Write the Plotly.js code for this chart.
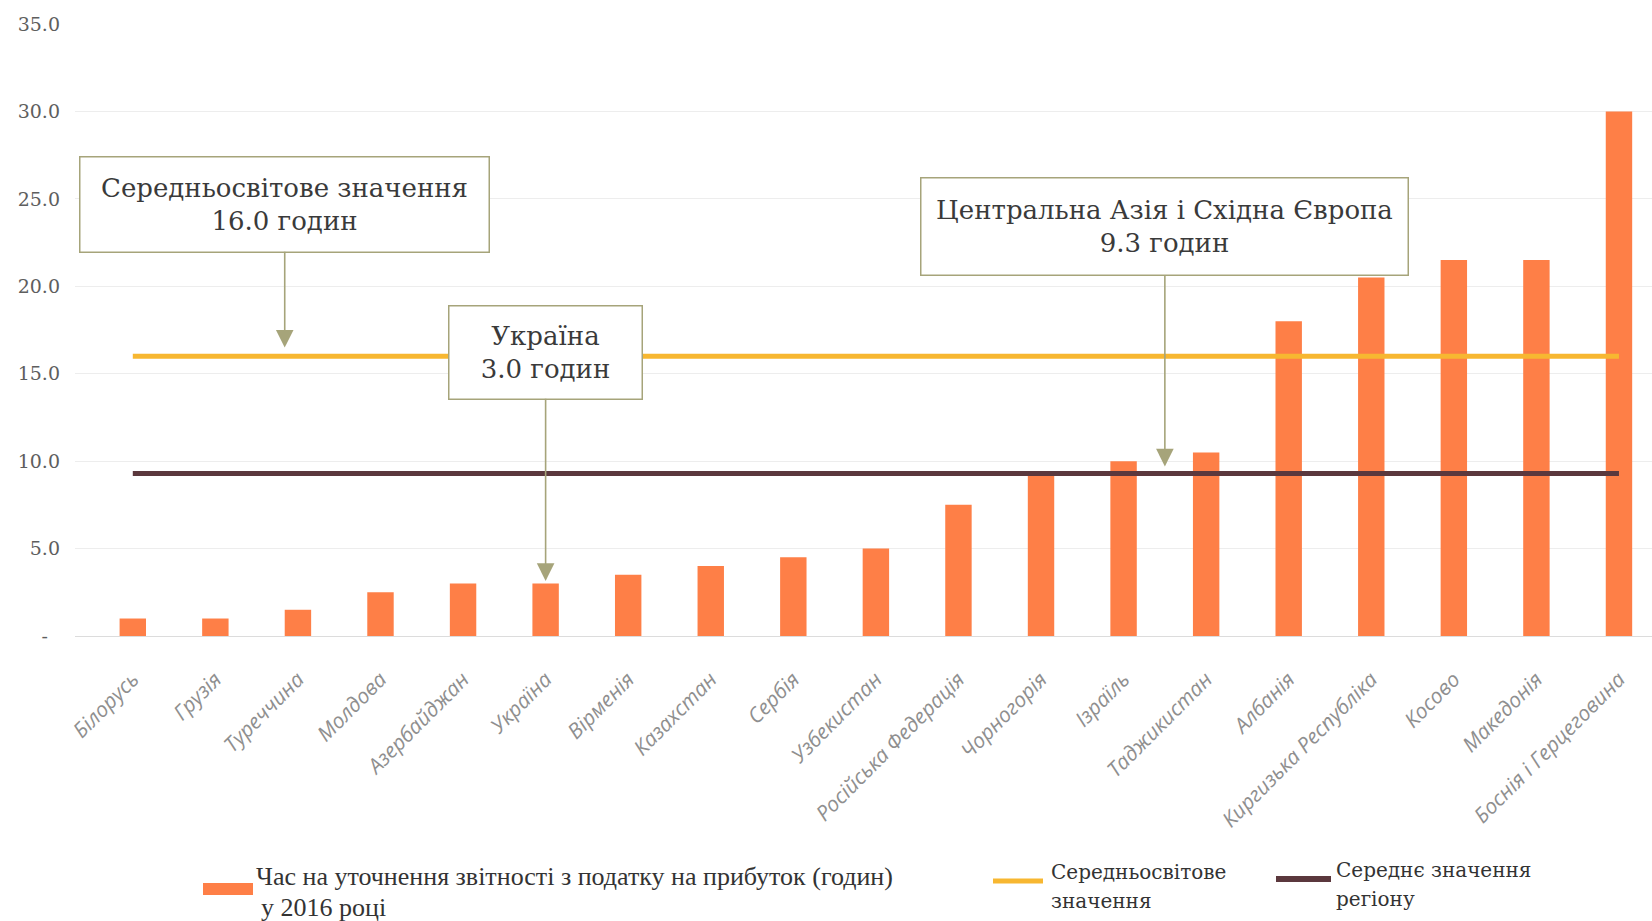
<!DOCTYPE html>
<html>
<head>
<meta charset="utf-8">
<script src="https://cdn.plot.ly/plotly-3.0.1.min.js"></script>
<style>
  html, body { margin: 0; padding: 0; background: #ffffff; }
  #chart { width: 1652px; height: 921px; }
</style>
</head>
<body>
<div id="chart"></div>
<script>
// ---- data ----
const countries = ["Білорусь", "Грузія", "Туреччина", "Молдова", "Азербайджан", "Україна", "Вірменія",
  "Казахстан", "Сербія", "Узбекистан", "Російська Федерація", "Чорногорія", "Ізраїль", "Таджикистан",
  "Албанія", "Киргизька Республіка", "Косово", "Македонія", "Боснія і Герцеговина"];
const hours = [1.0, 1.0, 1.5, 2.5, 3.0, 3.0, 3.5, 4.0, 4.5, 5.0, 7.5, 9.3, 10.0, 10.5, 18.0, 20.5, 21.5, 21.5, 30.0];
const worldAvg = 16.0;
const regionAvg = 9.3;
const yTickVals = [0, 5, 10, 15, 20, 25, 30, 35];
const yTickText = ["-\u00a0\u00a0", "5.0", "10.0", "15.0", "20.0", "25.0", "30.0", "35.0"];
const legendLabels = ["Час на уточнення звітності з податку на прибуток (годин)", "у 2016 році",
  "Середньосвітове", "значення", "Середнє значення", "регіону"];
const noteWorld = "Середньосвітове значення<br>16.0 годин";
const noteUkraine = "Україна<br>3.0 годин";
const noteRegion = "Центральна Азія і Східна Європа<br>9.3 годин";

// ---- colours ----
const barColor = "#fe7f47";
const worldColor = "#f7b731";
const regionColor = "#5b383d";
const boxColor = "#a6a47a";

// ---- layout geometry helpers (pixel -> paper) ----
const W = 1652, H = 921;
const mL = 75, mR = 0, mT = 24, mB = 285;
const plotW = W - mL - mR, plotH = H - mT - mB;
const px = x => (x - mL) / plotW;
const py = y => (H - mB - y) / plotH;

const first = countries[0], last = countries[countries.length - 1];

const traces = [
  {
    type: "bar", x: countries, y: hours, marker: { color: barColor },
    width: 0.32, showlegend: false, hoverinfo: "x+y"
  },
  {
    type: "scatter", mode: "lines", x: [first, last], y: [worldAvg, worldAvg],
    line: { color: worldColor, width: 5 }, showlegend: false, hoverinfo: "y"
  },
  {
    type: "scatter", mode: "lines", x: [first, last], y: [regionAvg, regionAvg],
    line: { color: regionColor, width: 5 }, showlegend: false, hoverinfo: "y"
  }
];

const boxFont = { family: "DejaVu Serif, Georgia, serif", size: 26, color: "#3a3a3a" };
function note(text, tipX, tipY, boxX, boxY, w, h) {
  return {
    text: text, x: tipX, y: tipY, xref: "x", yref: "y",
    ax: boxX, ay: boxY, axref: "x", ayref: "y",
    showarrow: true, arrowhead: 2, arrowsize: 2.2, arrowwidth: 1.6, arrowcolor: boxColor,
    standoff: 0, startstandoff: 0,
    bgcolor: "#ffffff", bordercolor: boxColor, borderwidth: 1.5, borderpad: 0,
    width: w, height: h, align: "center", valign: "middle", font: boxFont
  };
}

const legendFontA = { family: "Liberation Serif, serif", size: 26, color: "#333333" };
const legendFontB = { family: "DejaVu Serif, serif", size: 20, color: "#333333" };
function legText(t, x, y, f) {
  return { text: t, x: px(x), y: py(y), xref: "paper", yref: "paper", xanchor: "left", yanchor: "middle",
    showarrow: false, font: f };
}

const annotations = [
  note(noteWorld, 1.84, 16.5, 1.84, 24.7, 408, 94),
  note(noteUkraine, 5, 3.15, 5, 16.24, 192, 92),
  note(noteRegion, 12.5, 9.7, 12.5, 23.4, 486, 96),
  legText(legendLabels[0], 254, 876, legendFontA),
  legText(legendLabels[1], 259, 907, legendFontA),
  legText(legendLabels[2], 1049, 872, legendFontB),
  legText(legendLabels[3], 1049, 901, legendFontB),
  legText(legendLabels[4], 1334, 870, legendFontB),
  legText(legendLabels[5], 1334, 899, legendFontB)
];

const shapes = [
  { type: "rect", xref: "paper", yref: "paper", x0: px(203), x1: px(253), y0: py(883), y1: py(895),
    fillcolor: barColor, line: { width: 0 } },
  { type: "line", xref: "paper", yref: "paper", x0: px(993), x1: px(1043), y0: py(881), y1: py(881),
    line: { color: worldColor, width: 5 } },
  { type: "line", xref: "paper", yref: "paper", x0: px(1276), x1: px(1331), y0: py(879), y1: py(879),
    line: { color: regionColor, width: 6 } }
];

const layout = {
  width: W, height: H,
  margin: { l: mL, r: mR, t: mT, b: mB },
  paper_bgcolor: "#ffffff", plot_bgcolor: "#ffffff",
  showlegend: false,
  xaxis: {
    type: "category", range: [-0.7, 18.4], showgrid: false, zeroline: false, showline: false,
    ticks: "", tickangle: -45, ticklabelstandoff: 26,
    tickfont: { family: "Open Sans, sans-serif", size: 21, color: "#8f8f8f", style: "italic" }
  },
  yaxis: {
    range: [0, 35], tickvals: yTickVals, ticktext: yTickText,
    showgrid: true, gridcolor: "#ededed", gridwidth: 1,
    zeroline: true, zerolinecolor: "#dcdcdc", zerolinewidth: 1, showline: false,
    ticks: "", ticklabelstandoff: 14,
    tickfont: { family: "DejaVu Serif, Georgia, serif", size: 19, color: "#5e5e5e" }
  },
  annotations: annotations,
  shapes: shapes
};

Plotly.newPlot("chart", traces, layout, { displayModeBar: false, staticPlot: true });
</script>
</body>
</html>
